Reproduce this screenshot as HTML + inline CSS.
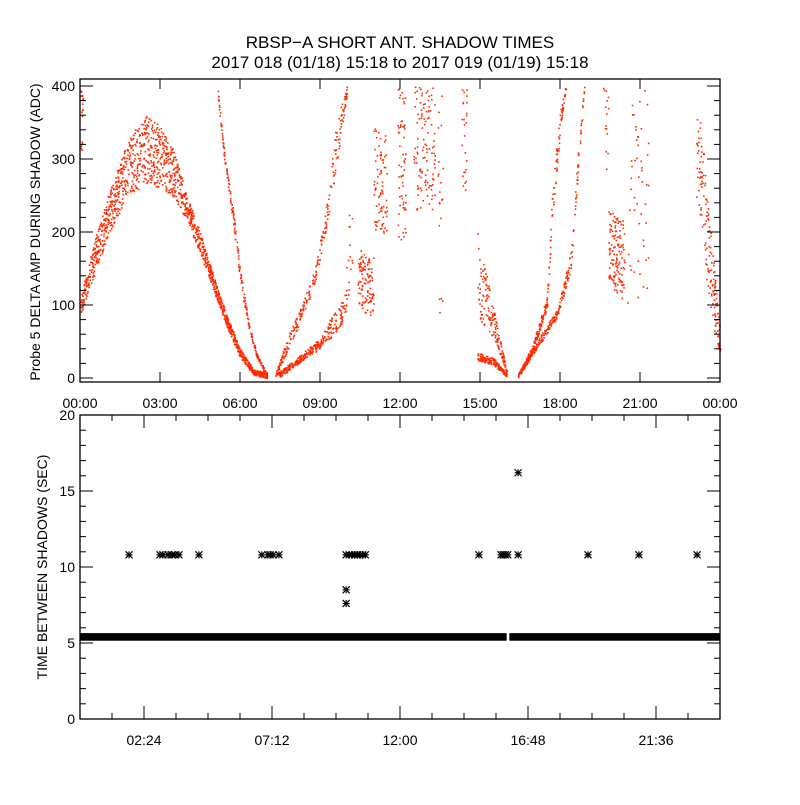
<!DOCTYPE html>
<html><head><meta charset="utf-8">
<style>
body{margin:0;background:#fff;}
svg text{font-family:"Liberation Sans",sans-serif;fill:#000;}
</style></head>
<body>
<svg id="c" width="800" height="800" xmlns="http://www.w3.org/2000/svg">
<rect width="800" height="800" fill="#fff"/>
<text x="400" y="48" font-size="17" text-anchor="middle">RBSP−A SHORT ANT. SHADOW TIMES</text>
<text x="400" y="68" font-size="17" text-anchor="middle">2017 018 (01/18) 15:18 to 2017 019 (01/19) 15:18</text>
<text transform="translate(40,232) rotate(-90)" font-size="14" text-anchor="middle">Probe 5 DELTA AMP DURING SHADOW (ADC)</text>
<text transform="translate(47,567) rotate(-90)" font-size="14" text-anchor="middle">TIME BETWEEN SHADOWS (SEC)</text>
<g id="topPanel"></g>
<g id="botPanel"></g>
</svg>
<script>
// ---- top panel data: scatter bands (hours, ADC) ----
const bandTimes = [
 [0,0.5,1,1.5,2,2.5,3,3.5,4,4.5,5,5.5,6,6.5,7],
 [5.15,5.4,5.7,6,6.3,6.6,7],
 [7.3,7.8,8.3,8.8,9.2,9.6,10],
 [7.4,8,8.5,9,9.5,9.9,10.2],
 [10.4,10.7,11],
 [11,11.5],
 [11.9,12.2],
 [12.5,13.3],
 [13.4,13.6],
 [14.3,14.5],
 [14.9,15.5,16.0],
 [14.9,15.5,16.0],
 [16.4,17.3,17.9,18.4,18.7,18.9],
 [16.5,16.9,17.5,17.7,18.0,18.2],
 [19.8,20.4],
 [20.5,21.3],
 [19.6,19.8],
 [23.1,23.4,23.7,24],
 [0,0.1]
];
const bandLow = [
 [85,140,190,230,255,265,262,248,215,170,120,70,28,5,0],
 [385,300,220,130,70,30,2],
 [0,40,80,130,200,290,390],
 [0,15,30,40,60,80,140],
 [100,80,90],
 [190,200],
 [190,190],
 [230,230],
 [90,90],
 [250,250],
 [85,55,5],
 [25,18,2],
 [0,50,85,150,300,395],
 [5,30,95,220,340,395],
 [130,100],
 [100,100],
 [280,280],
 [250,150,80,25],
 [300,300]
];
const bandHigh = [
 [110,185,245,300,340,360,345,315,250,200,140,85,40,12,8],
 [400,310,240,150,80,35,6],
 [5,60,100,150,230,350,400],
 [8,25,40,55,90,110,300],
 [180,170,170],
 [350,330],
 [400,400],
 [400,400],
 [400,400],
 [400,400],
 [200,95,10],
 [35,28,6],
 [6,62,95,175,330,400],
 [12,40,112,260,370,400],
 [230,220],
 [400,400],
 [400,400],
 [400,300,180,60],
 [400,400]
];
const bandCount = [1500,220,260,320,110,80,60,110,20,25,160,150,260,240,130,50,15,160,20];

// ---- bottom panel data ----
const baseValue = 5.4;
const baseStarts = [0, 16.1];
const baseEnds = [16.0, 24];
const starTimes = [1.84,3.0,3.11,3.3,3.45,3.56,3.71,4.46,6.82,7.05,7.13,7.24,7.46,9.98,10.1,10.2,10.3,10.4,10.5,10.6,10.7,14.96,15.79,15.87,15.95,16.04,16.43,19.05,20.96,23.14,9.98,9.98,16.43];
const starValues = [10.8,10.8,10.8,10.8,10.8,10.8,10.8,10.8,10.8,10.8,10.8,10.8,10.8,10.8,10.8,10.8,10.8,10.8,10.8,10.8,10.8,10.8,10.8,10.8,10.8,10.8,10.8,10.8,10.8,10.8,8.5,7.6,16.2];

const topXTicks = ["00:00","03:00","06:00","09:00","12:00","15:00","18:00","21:00","00:00"];
const topYTicks = [0,100,200,300,400];
const botXTickHours = [2.4,7.2,12,16.8,21.6];
const botXTicks = ["02:24","07:12","12:00","16:48","21:36"];
const botYTicks = [0,5,10,15,20];

const NS="http://www.w3.org/2000/svg";
const L=80,R=720;
const xs=h=>L+h*(R-L)/24;
const ty=v=>378-v*0.73;
const by=v=>719-v*15.2;
function mk(tag,attrs,parent){const e=document.createElementNS(NS,tag);for(const k in attrs)e.setAttribute(k,attrs[k]);parent.appendChild(e);return e;}
function interp(ts,vs,t){for(let i=0;i<ts.length-1;i++){if(t>=ts[i]&&t<=ts[i+1]){const f=(t-ts[i])/((ts[i+1]-ts[i])||1);return vs[i]+f*(vs[i+1]-vs[i]);}}return vs[vs.length-1];}
function hsh(n){const s=Math.sin(n*12.9898+78.233)*43758.5453;return s-Math.floor(s);}

const topG=document.getElementById('topPanel');
const botG=document.getElementById('botPanel');

// top scatter
let seed=1;
for(let b=0;b<bandTimes.length;b++){
  const ts=bandTimes[b],t0=ts[0],t1=ts[ts.length-1];
  for(let i=0;i<bandCount[b];i++){
    const t=t0+(t1-t0)*hsh(seed++);
    const lo=interp(ts,bandLow[b],t),hi=interp(ts,bandHigh[b],t);
    const v=lo+(hi-lo)*hsh(seed++);
    const r=mk('rect',{x:xs(t).toFixed(1),y:ty(v).toFixed(1),width:1.6,height:1.6,fill:'#ff2a00'},topG);
    
    
  }
}
// top frame & ticks
const f1=mk('rect',{x:80,y:79,width:640,height:303,fill:'none',stroke:'#000','stroke-width':1.3},topG);


topXTicks.forEach((lab,i)=>{const x=xs(i*3);
  mk('line',{x1:x,x2:x,y1:382,y2:372,stroke:'#000'},topG);
  mk('line',{x1:x,x2:x,y1:79,y2:89,stroke:'#000'},topG);
  const t=mk('text',{x:x,y:408,'font-size':14,'text-anchor':'middle'},topG);t.textContent=lab;
  
  
});
for(let v=0;v<=400;v+=20){const y=ty(v),len=v%100===0?13:6;
  mk('line',{x1:80,x2:80+len,y1:y,y2:y,stroke:'#000'},topG);
  mk('line',{x1:720,x2:720-len,y1:y,y2:y,stroke:'#000'},topG);}
topYTicks.forEach(v=>{const t=mk('text',{x:75,y:ty(v)+5,'font-size':14,'text-anchor':'end'},topG);t.textContent=v;
  
  });

// bottom baseline band
for(let i=0;i<baseStarts.length;i++){
  const r=mk('rect',{x:xs(baseStarts[i]),y:by(baseValue+0.25),width:xs(baseEnds[i])-xs(baseStarts[i]),height:by(baseValue-0.25)-by(baseValue+0.25),fill:'#000'},botG);
  
  
}
// stars
starTimes.forEach((h,i)=>{const x=xs(h),y=by(starValues[i]),s=3.5;
  const g=mk('g',{stroke:'#000','stroke-width':1.2},botG);
  
  
  mk('line',{x1:x-s,x2:x+s,y1:y,y2:y},g);
  mk('line',{x1:x-s,x2:x+s,y1:y-s,y2:y+s},g);
  mk('line',{x1:x-s,x2:x+s,y1:y+s,y2:y-s},g);
  mk('line',{x1:x,x2:x,y1:y-s,y2:y+s},g);
});
const f2=mk('rect',{x:80,y:415,width:640,height:304,fill:'none',stroke:'#000','stroke-width':1.3},botG);


for(let k=0;k<=20;k++){const h=k*1.2,x=xs(h),len=k%4===2?13:6;
  mk('line',{x1:x,x2:x,y1:719,y2:719-len,stroke:'#000'},botG);
  mk('line',{x1:x,x2:x,y1:415,y2:415+len,stroke:'#000'},botG);}
botXTickHours.forEach((h,i)=>{const t=mk('text',{x:xs(h),y:745,'font-size':14,'text-anchor':'middle'},botG);t.textContent=botXTicks[i];
  
  });
for(let v=0;v<=20;v++){const y=by(v),len=v%5===0?13:6;
  mk('line',{x1:80,x2:80+len,y1:y,y2:y,stroke:'#000'},botG);
  mk('line',{x1:720,x2:720-len,y1:y,y2:y,stroke:'#000'},botG);}
botYTicks.forEach(v=>{const t=mk('text',{x:75,y:by(v)+5,'font-size':14,'text-anchor':'end'},botG);t.textContent=v;
  
  });
</script>
</body></html>
